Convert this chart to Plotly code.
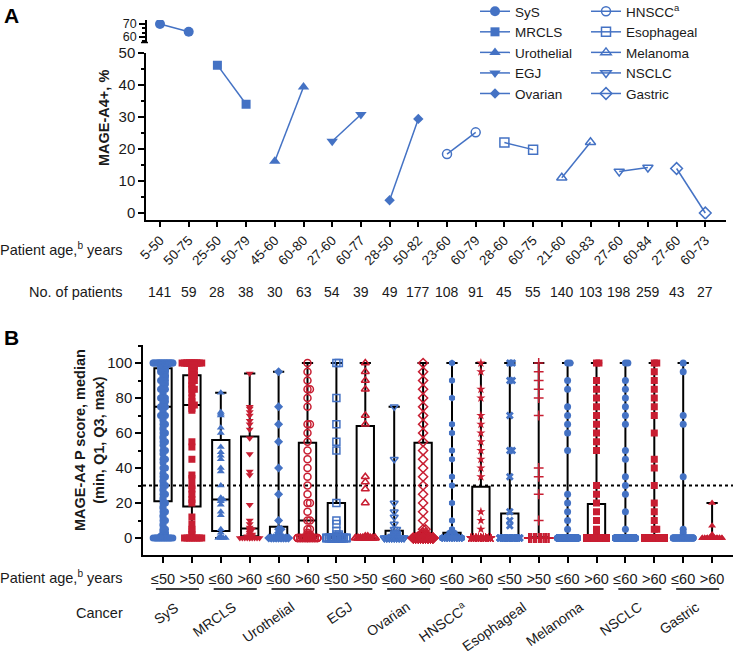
import plotly.graph_objects as go

# ---------------- Panel A data ----------------
cancers_a = ["SyS", "MRCLS", "Urothelial", "EGJ", "Ovarian",
             "HNSCC<sup>a</sup>", "Esophageal", "Melanoma", "NSCLC", "Gastric"]
age_ranges = ["5-50", "50-75", "25-50", "50-79", "45-60", "60-80", "27-60", "60-77",
              "28-50", "50-82", "23-60", "60-79", "28-60", "60-75", "21-60", "60-83",
              "27-60", "60-84", "27-60", "60-73"]
pct_positive = [70, 64, 46.2, 34, 16.2, 39.4, 22.4, 30.8, 4, 29.4,
                18.4, 25.2, 22, 19.8, 11, 22.1, 13, 14.2, 13.9, 0]
n_patients = [141, 59, 28, 38, 30, 63, 54, 39, 49, 177, 108, 91, 45, 55, 140, 103, 198, 259, 43, 27]
a_symbols = ["circle", "square", "triangle-up", "triangle-down", "diamond",
             "circle-open", "square-open", "triangle-up-open", "triangle-down-open", "diamond-open"]

# ---------------- Panel B data ----------------
b_cancers = ["SyS", "MRCLS", "Urothelial", "EGJ", "Ovarian",
             "HNSCC<sup>a</sup>", "Esophageal", "Melanoma", "NSCLC", "Gastric"]
b_age_labels = ["≤50", ">50", "≤60", ">60", "≤60", ">60", "≤50", ">50", "≤60", ">60",
                "≤60", ">60", "≤50", ">50", "≤60", ">60", "≤60", ">60", "≤60", ">60"]
b_q1 = [21, 18, 4, 1, 0, 0, 0, 0, 0, 0, 0, 0, 0, 0, 0, 0, 0, 0, 0, 0]
b_median = [75, 76, 22, 5.5, 1, 10, 1, 0, 1, 1.5, 1, 0, 1, 0, 0, 0.5, 0, 0, 0, 0]
b_q3 = [97, 93, 56, 58, 6.5, 54.5, 20, 64, 4.2, 54.5, 3, 29.3, 14, 0.5, 1, 19.4, 0.5, 1, 0.5, 0.5]
b_min = [0, 0, 0, 0, 0, 0, 0, 0, 0, 0, 0, 0, 0, 0, 0, 0, 0, 0, 0, 0]
b_max = [100, 100, 83, 94, 95, 100, 100, 100, 75, 100, 100, 100, 100, 100, 100, 100, 100, 100, 100, 20]

# individual P scores as (value, count)
pts_sys_le50 = [(100, 24), (99, 4), (98, 3), (97, 3), (96, 2), (95, 3), (93, 2), (92, 2), (90, 3), (88, 2),
                (87, 1), (85, 3), (83, 1), (82, 1), (80, 3), (78, 2), (77, 1), (75, 3), (73, 1), (72, 1),
                (70, 3), (68, 1), (67, 1), (65, 2), (63, 1), (62, 1), (60, 2), (58, 1), (57, 1), (55, 2),
                (53, 1), (50, 2), (48, 1), (45, 2), (43, 1), (40, 2), (37, 1), (35, 2), (33, 1), (32, 1),
                (30, 2), (28, 1), (27, 1), (25, 2), (23, 1), (22, 1), (20, 2), (18, 1), (17, 1), (15, 2),
                (13, 1), (12, 1), (10, 2), (8, 1), (7, 1), (5, 2), (4, 1), (3, 2), (2, 2), (1, 3), (0, 16)]
pts_sys_gt50 = [(100, 14), (99, 2), (98, 2), (97, 1), (95, 2), (93, 2), (92, 1), (90, 2), (88, 1), (87, 1),
                (85, 2), (83, 1), (80, 1), (78, 1), (76, 2), (74, 1), (73, 1), (55, 1), (52, 1), (45, 1),
                (36, 1), (34, 1), (30, 1), (28, 1), (25, 1), (22, 1), (20, 1), (12, 1), (8, 1), (5, 1),
                (4, 1), (2, 1), (0, 8)]
pts_mrcls_le60 = [(83, 1), (72, 1), (71, 1), (70, 1), (63, 1), (60, 1), (52, 1), (49, 1), (47, 1), (45, 1),
                  (40, 1), (38, 1), (30, 1), (23, 1), (22, 2), (21, 1), (19, 1), (15, 1), (13, 1), (5, 1),
                  (3, 1), (1, 1), (0, 4)]
pts_mrcls_gt60 = [(94, 1), (75, 1), (74, 1), (72, 1), (70, 1), (67, 1), (65, 1), (62, 1), (57, 1), (48, 1),
                  (38, 1), (36, 1), (19, 1), (10, 1), (8, 1), (6, 1), (5, 2), (4, 1), (3, 1), (2, 2),
                  (1, 3), (0, 10)]
pts_uro_le60 = [(95, 1), (75, 1), (65, 1), (55, 1), (40, 1), (25, 1), (10, 1), (5, 2), (3, 1), (2, 1),
                (1, 2), (0, 17)]
pts_uro_gt60 = [(100, 1), (95, 1), (90, 1), (85, 2), (80, 1), (75, 1), (65, 2), (60, 1), (55, 1), (50, 1),
                (45, 1), (40, 1), (35, 1), (30, 1), (25, 1), (20, 2), (15, 1), (10, 2), (5, 2), (3, 1),
                (2, 2), (1, 2), (0, 28)]
pts_egj_le50 = [(100, 2), (80, 1), (65, 1), (55, 1), (50, 1), (20, 1), (10, 1), (8, 1), (4, 1), (2, 2),
                (1, 2), (0, 40)]
pts_egj_gt50 = [(100, 1), (95, 1), (90, 1), (85, 1), (70, 1), (65, 1), (35, 1), (32, 1), (28, 1), (20, 1),
                (1, 2), (0, 26)]
pts_ova_le60 = [(75, 1), (45, 1), (20, 1), (15, 1), (12, 1), (8, 1), (5, 2), (3, 2), (2, 2), (1, 3), (0, 34)]
pts_ova_gt60 = [(100, 1), (95, 1), (90, 1), (85, 1), (80, 1), (75, 1), (70, 1), (65, 1), (60, 1), (55, 1),
                (50, 1), (45, 1), (40, 1), (35, 1), (30, 1), (25, 1), (20, 1), (15, 1), (10, 1), (5, 2),
                (3, 2), (2, 3), (1, 5), (0, 145)]
pts_hn_le60 = [(100, 1), (90, 1), (80, 1), (65, 1), (60, 1), (50, 1), (45, 1), (35, 1), (30, 1), (20, 1),
               (10, 1), (5, 1), (3, 3), (2, 3), (1, 5), (0, 80)]
pts_hn_gt60 = [(100, 1), (95, 1), (85, 1), (80, 1), (70, 1), (65, 1), (60, 1), (55, 1), (50, 1), (45, 1),
               (40, 1), (35, 1), (15, 1), (10, 1), (5, 1), (0, 76)]
pts_eso_le50 = [(100, 2), (90, 2), (70, 1), (50, 2), (35, 1), (15, 1), (10, 1), (7, 1), (0, 34)]
pts_eso_gt50 = [(100, 1), (95, 1), (90, 1), (85, 1), (80, 1), (70, 1), (40, 1), (35, 1), (25, 1), (10, 1),
                (0, 45)]
pts_mel_le60 = [(100, 2), (90, 1), (85, 1), (75, 1), (70, 1), (65, 1), (60, 1), (50, 1), (25, 1), (20, 1),
                (15, 1), (10, 1), (5, 1), (0, 126)]
pts_mel_gt60 = [(100, 2), (90, 1), (85, 1), (80, 1), (75, 1), (70, 1), (65, 1), (60, 1), (55, 1), (50, 1),
                (30, 1), (25, 1), (20, 1), (15, 1), (10, 1), (5, 1), (2, 1), (0, 84)]
pts_nsclc_le60 = [(100, 2), (90, 1), (85, 1), (80, 1), (75, 1), (70, 1), (65, 1), (50, 1), (45, 1), (35, 1),
                  (30, 1), (25, 1), (15, 1), (5, 1), (0, 183)]
pts_nsclc_gt60 = [(100, 2), (95, 1), (90, 1), (85, 1), (80, 1), (75, 1), (70, 1), (60, 1), (45, 1), (40, 1),
                  (30, 1), (20, 1), (15, 1), (10, 1), (5, 2), (0, 240)]
pts_gas_le60 = [(100, 1), (95, 1), (70, 1), (65, 1), (35, 1), (5, 1), (3, 1), (0, 36)]
pts_gas_gt60 = [(20, 1), (7, 1), (2, 1), (0, 24)]

b_points = [pts_sys_le50, pts_sys_gt50, pts_mrcls_le60, pts_mrcls_gt60, pts_uro_le60, pts_uro_gt60,
            pts_egj_le50, pts_egj_gt50, pts_ova_le60, pts_ova_gt60, pts_hn_le60, pts_hn_gt60,
            pts_eso_le50, pts_eso_gt50, pts_mel_le60, pts_mel_gt60, pts_nsclc_le60, pts_nsclc_gt60,
            pts_gas_le60, pts_gas_gt60]
b_symbols = ["circle", "square", "triangle-up", "triangle-down", "diamond", "circle-open",
             "square-open", "triangle-up-open", "triangle-down-open", "diamond-open", "hexagon", "star",
             "x", "cross-thin-open", "circle", "square", "circle", "square", "circle", "triangle-up"]

# ---------------- styling / layout helpers ----------------
W, H = 736, 651
BLUE = "#4472C4"
RED = "#C81E32"
INK = "#1a1a1a"
FONT = "Liberation Sans, Arial, sans-serif"


def fx(p):
    return p / W


def fy(p):
    return 1 - p / H


A_X0, A_DX = 160, 28.7     # panel A first tick px, px per category
B_X0, B_DX = 163, 28.9     # panel B

fig = go.Figure()

# ---- Panel A traces ----
for k, name in enumerate(cancers_a):
    sym = a_symbols[k]
    is_open = sym.endswith("open")
    size = {"circle": 10, "square": 9, "triangle-up": 10, "triangle-down": 10, "diamond": 8}.get(sym, 9)
    fig.add_trace(go.Scatter(
        x=[2 * k, 2 * k + 1], y=pct_positive[2 * k:2 * k + 2],
        mode="lines+markers", name=name,
        xaxis="x", yaxis="y2" if k == 0 else "y",
        line=dict(color=BLUE, width=1.5),
        marker=dict(symbol=sym, size=size, color=BLUE,
                    line=dict(color=BLUE, width=1.5 if is_open else 0)),
        legend="legend" if k < 5 else "legend2",
        hoverinfo="skip",
    ))

# ---- Panel B boxes ----
fig.add_trace(go.Box(
    x=list(range(20)), q1=b_q1, median=b_median, q3=b_q3,
    lowerfence=b_min, upperfence=b_max, orientation="v",
    xaxis="x2", yaxis="y3", width=0.6, whiskerwidth=0.65,
    line=dict(color="black", width=2), fillcolor="rgba(0,0,0,0)",
    boxpoints=False, showlegend=False, hoverinfo="skip",
))


def swarm_offsets(vals, step=0.085, maxoff=0.36):
    m = int(maxoff / step)
    slots = [0]
    for j in range(1, m + 1):
        slots += [j, -j]
    seen = {}
    offs = []
    for v in vals:
        k = seen.get(v, 0)
        seen[v] = k + 1
        offs.append(slots[k % len(slots)] * step)
    return offs


for i, grp in enumerate(b_points):
    vals = []
    for v, c in grp:
        vals += [v] * c
    offs = swarm_offsets(vals)
    col = BLUE if i % 2 == 0 else RED
    sym = b_symbols[i]
    is_open = sym.endswith("open")
    fig.add_trace(go.Scatter(
        x=[i + o for o in offs], y=vals, mode="markers",
        xaxis="x2", yaxis="y3", showlegend=False, hoverinfo="skip",
        marker=dict(symbol=sym, size=7, color=col,
                    line=dict(color=col, width=1.5 if is_open else 0)),
    ))

tick_common = dict(ticks="outside", tickcolor="black", tickwidth=1.5, showline=True,
                   linecolor="black", linewidth=1.5, showgrid=False, zeroline=False,
                   automargin=False,
                   tickfont=dict(family=FONT, size=15, color=INK))

fig.update_layout(
    width=W, height=H, margin=dict(l=0, r=0, t=0, b=0, pad=0, autoexpand=False),
    paper_bgcolor="white", plot_bgcolor="white",
    font=dict(family=FONT, color=INK, size=14),
    showlegend=True,
    xaxis=dict(domain=[fx(146), fx(726)],
               range=[(146 - A_X0) / A_DX, (726 - A_X0) / A_DX],
               anchor="y", tickvals=list(range(20)), ticktext=age_ranges, tickangle=-45,
               ticklen=6, **{**tick_common, "tickfont": dict(family=FONT, size=13.5, color=INK)}),
    yaxis=dict(domain=[fy(219.5), fy(53)], range=[-2.03, 50], anchor="x",
               tickvals=[0, 10, 20, 30, 40, 50], ticklen=6,
               minor=dict(ticks="outside", dtick=5, ticklen=3, tickwidth=1.5, tickcolor="black"),
               **tick_common),
    yaxis2=dict(domain=[fy(42), fy(20)], range=[56.15, 73.1], anchor="free", position=fx(146),
                tickvals=[60, 70], ticklen=6,
                minor=dict(ticks="outside", dtick=10 / 3, tick0=60, ticklen=3, tickwidth=1.5,
                           tickcolor="black"),
                **{**tick_common, "tickfont": dict(family=FONT, size=12.5, color=INK)}),
    xaxis2=dict(domain=[fx(143), fx(733)],
                range=[(143 - B_X0) / B_DX, (733 - B_X0) / B_DX],
                anchor="y3", tickvals=list(range(20)), ticktext=b_age_labels, tickangle=0,
                ticklen=6, ticklabelstandoff=4,
                **{**tick_common, "tickfont": dict(family=FONT, size=14.5, color=INK)}),
    yaxis3=dict(domain=[fy(555), fy(345)], range=[-9.71, 110.3], anchor="x2",
                tickvals=[0, 20, 40, 60, 80, 100], ticklen=6,
                minor=dict(ticks="outside", dtick=10, ticklen=3, tickwidth=1.5, tickcolor="black"),
                **tick_common),
    legend=dict(x=fx(475), y=fy(-4), xanchor="left", yanchor="top",
                font=dict(family=FONT, size=13.5, color=INK), bgcolor="rgba(0,0,0,0)",
                itemclick=False, itemdoubleclick=False),
    legend2=dict(x=fx(586), y=fy(-4), xanchor="left", yanchor="top",
                 font=dict(family=FONT, size=13.5, color=INK), bgcolor="rgba(0,0,0,0)",
                 itemclick=False, itemdoubleclick=False),
)

ann = []
ann.append(dict(text="<b>A</b>", x=fx(2), y=fy(2), xref="paper", yref="paper",
                xanchor="left", yanchor="top", showarrow=False, font=dict(size=21, color="black")))
ann.append(dict(text="<b>B</b>", x=fx(2), y=fy(324), xref="paper", yref="paper",
                xanchor="left", yanchor="top", showarrow=False, font=dict(size=21, color="black")))
ann.append(dict(text="<b>MAGE-A4+, %</b>", x=fx(104), y=fy(118), xref="paper", yref="paper",
                xanchor="center", yanchor="middle",
                textangle=-90, showarrow=False, font=dict(size=14.5)))
ann.append(dict(text="<b>MAGE-A4 P score, median<br>(min, Q1, Q3, max)</b>", x=fx(89), y=fy(440),
                xanchor="center", yanchor="middle",
                xref="paper", yref="paper", textangle=-90, showarrow=False, font=dict(size=14.5)))
for label, ypx in [("Patient age,<sup>b</sup> years", 249), ("No. of patients", 292),
                   ("Patient age,<sup>b</sup> years", 577), ("Cancer", 613)]:
    ann.append(dict(text=label, x=fx(125), y=fy(ypx), xref="paper", yref="paper",
                    xanchor="right", yanchor="middle", showarrow=False, font=dict(size=14.5)))
for i, n in enumerate(n_patients):
    ann.append(dict(text=str(n), x=i, y=fy(292), xref="x", yref="paper", xanchor="center",
                    yanchor="middle", showarrow=False, font=dict(size=14)))
for k, name in enumerate(b_cancers):
    ann.append(dict(text=name, x=2 * k + 0.5, y=fy(596), xref="x2", yref="paper", xshift=7,
                    xanchor="right", yanchor="top", textangle=-35, showarrow=False,
                    font=dict(size=14)))
fig.update_layout(annotations=ann)

shapes = []
for k in range(10):
    shapes.append(dict(type="line", xref="x2", yref="paper", x0=2 * k + 0.5 - 0.745,
                       x1=2 * k + 0.5 + 0.745, y0=fy(589), y1=fy(589),
                       line=dict(color="black", width=1.5)))
shapes.append(dict(type="line", xref="x2 domain", yref="y3", x0=0, x1=1, y0=30, y1=30,
                   line=dict(color="black", width=2, dash="dot"), layer="below"))
# axis break mark
shapes.append(dict(type="line", xref="paper", yref="paper", x0=fx(141), x1=fx(148),
                   y0=fy(42.5), y1=fy(42.5), line=dict(color="black", width=1.5)))
fig.update_layout(shapes=shapes)

fig.write_html("out.html", config={"displayModeBar": False},
               post_script="document.body.style.margin='0';document.body.style.overflow='hidden';")
